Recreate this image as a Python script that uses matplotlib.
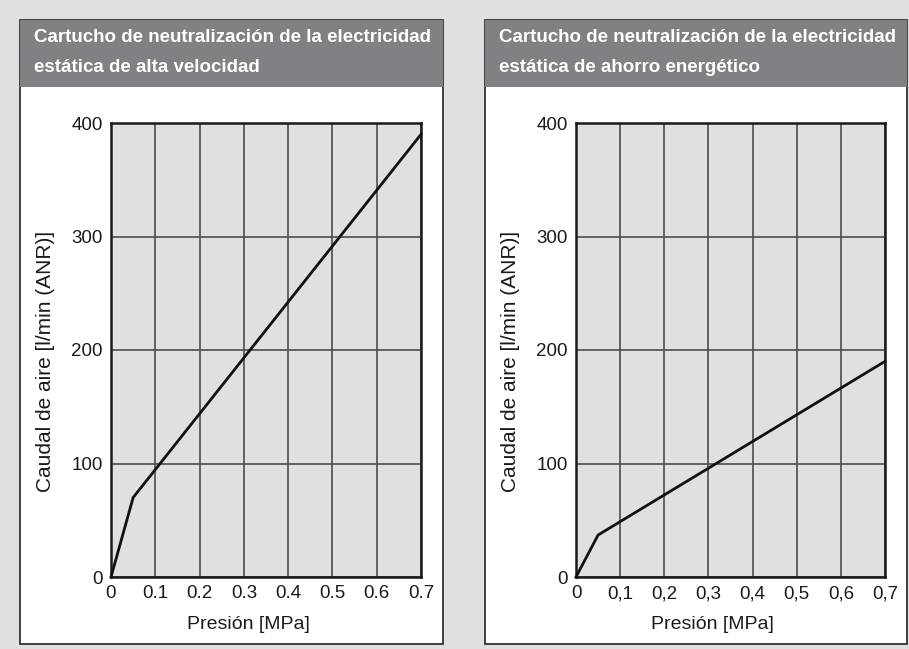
import matplotlib
matplotlib.use("Agg")
import matplotlib.pyplot as plt
from matplotlib.patches import Rectangle
from matplotlib.ticker import FuncFormatter

# datos
pres_alta = [0, 0.05, 0.7]
caudal_alta = [0, 70, 390]
pres_ahorro = [0, 0.05, 0.7]
caudal_ahorro = [0, 37, 190]

titulos = ["Cartucho de neutralización de la electricidad\nestática de alta velocidad",
           "Cartucho de neutralización de la electricidad\nestática de ahorro energético"]
xticks = [0, 0.1, 0.2, 0.3, 0.4, 0.5, 0.6, 0.7]
yticks = [0, 100, 200, 300, 400]
ylabel = "Caudal de aire [l/min (ANR)]"
xlabel = "Presión [MPa]"

plt.rcParams['font.family'] = ['Liberation Sans', 'DejaVu Sans']

W, H = 909, 649
bg = '#dfe0e2'
fig = plt.figure(figsize=(W / 100, H / 100), dpi=100, facecolor=bg)

def fx(px):
    return px / W

def fy(py):
    return 1 - py / H

paneles = [(20, 443), (485, 907)]
ejes = [(111, 421), (576, 885)]
datos = [(pres_alta, caudal_alta, '.'), (pres_ahorro, caudal_ahorro, ',')]

for i in range(2):
    x0, x1 = paneles[i]
    # caja blanca del panel
    fig.patches.append(Rectangle((fx(x0), fy(644)), fx(x1 - x0), (644 - 20) / H,
                                 transform=fig.transFigure, facecolor='white',
                                 edgecolor='#333333', lw=1.3, zorder=-3))
    # cabecera gris
    fig.patches.append(Rectangle((fx(x0), fy(87)), fx(x1 - x0), (87 - 20) / H,
                                 transform=fig.transFigure, facecolor='#808184',
                                 edgecolor='none', zorder=-2))
    fig.text(fx(x0 + 14), fy(52), titulos[i], color='white', fontsize=13.5,
             fontweight='bold', va='center', ha='left', linespacing=2.0)

    a0, a1 = ejes[i]
    ax = fig.add_axes([fx(a0), fy(577), fx(a1 - a0), (577 - 123) / H])
    ax.set_facecolor(bg)
    px, py, sep = datos[i]
    ax.plot(px, py, color='#111111', lw=2, zorder=3, clip_on=False)
    ax.set_xlim(0, 0.7)
    ax.set_ylim(0, 400)
    ax.set_xticks(xticks)
    ax.set_yticks(yticks)
    ax.xaxis.set_major_formatter(FuncFormatter(
        lambda v, p, s=sep: '0' if v == 0 else f'{v:.1f}'.replace('.', s)))
    ax.grid(True, color='#4d4d4d', lw=1.2)
    ax.tick_params(length=0, labelsize=13.5, pad=6, colors='#1a1a1a')
    for s in ax.spines.values():
        s.set_color('#1a1a1a')
        s.set_linewidth(1.8)
    ax.set_xlabel(xlabel, fontsize=14, color='#1a1a1a')
    ax.set_ylabel(ylabel, fontsize=15, color='#1a1a1a')
    ax.xaxis.set_label_coords(0.443, -0.085)
    ax.yaxis.set_label_coords(-0.18, 0.475)

fig.savefig('out.png', dpi=100, facecolor=bg)
